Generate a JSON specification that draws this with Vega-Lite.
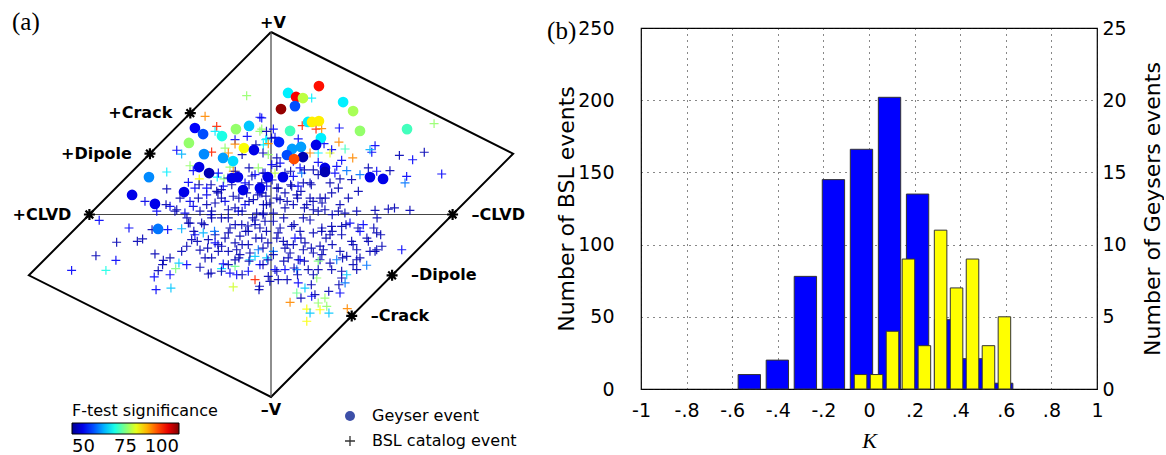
{
  "$schema": "https://vega.github.io/schema/vega-lite/v6.json",
  "padding": {"left": 0, "top": 9, "right": 0, "bottom": 0},
  "spacing": 96,
  "bounds": "flush",
  "background": "white",
  "resolve": {"scale": {"shape": "independent"}, "legend": {"shape": "independent"}},
  "config": {
    "font": "DejaVu Sans",
    "axis": {"labelFont": "DejaVu Sans", "labelFontSize": 19, "labelColor": "black", "titleFont": "DejaVu Sans", "titleFontSize": 22, "titleFontWeight": "normal", "titleColor": "black", "ticks": false, "domain": false, "labelOverlap": false},
    "legend": {"padding": 0, "labelFont": "DejaVu Sans", "labelColor": "black", "titleFont": "DejaVu Sans", "titleColor": "black", "titleFontWeight": "normal"}
  },
  "datasets": {
    "hud": [{"u": 0, "v": 1, "o": 0}, {"u": 1.3333, "v": 0.3333, "o": 1}, {"u": 0, "v": -1, "o": 2}, {"u": -1.3333, "v": -0.3333, "o": 3}, {"u": 0, "v": 1, "o": 4}],
    "ax": [{"u": -1, "v": 0, "u2": 1, "v2": 0}, {"u": 0, "v": 1, "u2": 0, "v2": -1}],
    "lab": [{"u": 0, "v": 1, "label": "+V"}, {"u": 0, "v": -1, "label": "–V"}, {"u": -1, "v": 0, "label": "+CLVD"}, {"u": 1, "v": 0, "label": "–CLVD"}, {"u": -0.6667, "v": 0.3333, "label": "+Dipole"}, {"u": 0.6667, "v": -0.3333, "label": "–Dipole"}, {"u": -0.4444, "v": 0.5556, "label": "+Crack"}, {"u": 0.4444, "v": -0.5556, "label": "–Crack"}],
    "bsl": [{"k0": -0.574, "k1": -0.476, "n": 10}, {"k0": -0.451, "k1": -0.353, "n": 20}, {"k0": -0.328, "k1": -0.23, "n": 78}, {"k0": -0.205, "k1": -0.107, "n": 145}, {"k0": -0.082, "k1": 0.016, "n": 166}, {"k0": 0.041, "k1": 0.139, "n": 202}, {"k0": 0.164, "k1": 0.262, "n": 135}, {"k0": 0.287, "k1": 0.385, "n": 48}, {"k0": 0.41, "k1": 0.508, "n": 21}, {"k0": 0.533, "k1": 0.631, "n": 4}],
    "gey": [{"k0": -0.0645, "k1": -0.0095, "n": 1}, {"k0": 0.0055, "k1": 0.0605, "n": 1}, {"k0": 0.0755, "k1": 0.1305, "n": 4}, {"k0": 0.1455, "k1": 0.2005, "n": 9}, {"k0": 0.2155, "k1": 0.2705, "n": 3}, {"k0": 0.2865, "k1": 0.3415, "n": 11}, {"k0": 0.3565, "k1": 0.4115, "n": 7}, {"k0": 0.4265, "k1": 0.4815, "n": 9}, {"k0": 0.4965, "k1": 0.5515, "n": 3}, {"k0": 0.5665, "k1": 0.6215, "n": 5}],
    "ev": [
      {"u":-0.419,"v":0.474,"s":56,"t":"G"},{"u":-0.374,"v":0.441,"s":60,"t":"G"},{"u":-0.452,"v":0.392,"s":76,"t":"G"},{"u":-0.270,"v":0.430,"s":70,"t":"G"},{"u":-0.193,"v":0.468,"s":76,"t":"G"},{"u":-0.121,"v":0.485,"s":66,"t":"G"},{"u":-0.149,"v":0.364,"s":81,"t":"G"},{"u":-0.094,"v":0.353,"s":55,"t":"G"},{"u":-0.369,"v":0.331,"s":63,"t":"G"},{"u":-0.264,"v":0.310,"s":64,"t":"G"},{"u":-0.209,"v":0.293,"s":67,"t":"G"},{"u":-0.672,"v":0.205,"s":63,"t":"G"},{"u":-0.396,"v":0.260,"s":55,"t":"G"},{"u":-0.341,"v":0.227,"s":52,"t":"G"},{"u":-0.215,"v":0.200,"s":55,"t":"G"},{"u":-0.182,"v":0.205,"s":55,"t":"G"},{"u":-0.154,"v":0.134,"s":55,"t":"G"},{"u":-0.061,"v":0.145,"s":55,"t":"G"},{"u":-0.479,"v":0.123,"s":55,"t":"G"},{"u":-0.765,"v":0.107,"s":55,"t":"G"},{"u":-0.639,"v":0.058,"s":55,"t":"G"},{"u":-0.622,"v":-0.079,"s":62,"t":"G"},{"u":0.094,"v":0.666,"s":68,"t":"G"},{"u":0.264,"v":0.704,"s":93,"t":"G"},{"u":0.138,"v":0.644,"s":94,"t":"G"},{"u":0.176,"v":0.638,"s":78,"t":"G"},{"u":0.055,"v":0.578,"s":99,"t":"G"},{"u":0.132,"v":0.594,"s":60,"t":"G"},{"u":0.397,"v":0.616,"s":68,"t":"G"},{"u":0.452,"v":0.567,"s":77,"t":"G"},{"u":0.204,"v":0.507,"s":68,"t":"G"},{"u":0.226,"v":0.507,"s":82,"t":"G"},{"u":0.264,"v":0.512,"s":82,"t":"G"},{"u":0.490,"v":0.458,"s":76,"t":"G"},{"u":0.749,"v":0.468,"s":72,"t":"G"},{"u":0.105,"v":0.458,"s":72,"t":"G"},{"u":0.275,"v":0.419,"s":68,"t":"G"},{"u":0.044,"v":0.397,"s":58,"t":"G"},{"u":0.248,"v":0.381,"s":55,"t":"G"},{"u":0.116,"v":0.359,"s":64,"t":"G"},{"u":0.165,"v":0.370,"s":64,"t":"G"},{"u":0.088,"v":0.326,"s":60,"t":"G"},{"u":0.176,"v":0.315,"s":52,"t":"G"},{"u":0.127,"v":0.304,"s":90,"t":"G"},{"u":0.297,"v":0.255,"s":55,"t":"G"},{"u":0.297,"v":0.233,"s":52,"t":"G"},{"u":0.545,"v":0.205,"s":55,"t":"G"},{"u":0.617,"v":0.195,"s":55,"t":"G"},{"u":-0.017,"v":0.205,"s":55,"t":"G"},{"u":0.066,"v":0.205,"s":55,"t":"G"},
      {"u":-0.134,"v":0.651,"s":76,"t":"B"},{"u":-0.363,"v":0.538,"s":87,"t":"B"},{"u":-0.299,"v":0.483,"s":92,"t":"B"},{"u":-0.061,"v":0.533,"s":56,"t":"B"},{"u":-0.308,"v":0.456,"s":68,"t":"B"},{"u":-0.198,"v":0.410,"s":56,"t":"B"},{"u":-0.131,"v":0.428,"s":56,"t":"B"},{"u":-0.061,"v":0.456,"s":76,"t":"B"},{"u":-0.029,"v":0.410,"s":68,"t":"B"},{"u":-0.253,"v":0.364,"s":76,"t":"B"},{"u":-0.198,"v":0.386,"s":87,"t":"B"},{"u":-0.327,"v":0.342,"s":92,"t":"B"},{"u":-0.235,"v":0.337,"s":87,"t":"B"},{"u":-0.519,"v":0.352,"s":56,"t":"B"},{"u":-0.492,"v":0.331,"s":65,"t":"B"},{"u":-0.015,"v":0.328,"s":76,"t":"B"},{"u":-0.446,"v":0.267,"s":76,"t":"B"},{"u":-0.428,"v":0.240,"s":56,"t":"B"},{"u":-0.574,"v":0.233,"s":68,"t":"B"},{"u":-0.395,"v":0.195,"s":81,"t":"B"},{"u":-0.455,"v":0.176,"s":56,"t":"B"},{"u":-0.296,"v":0.205,"s":68,"t":"B"},{"u":-0.259,"v":0.195,"s":75,"t":"B"},{"u":-0.290,"v":0.227,"s":56,"t":"B"},{"u":-0.226,"v":0.260,"s":76,"t":"B"},{"u":-0.208,"v":0.237,"s":87,"t":"B"},{"u":-0.070,"v":0.255,"s":76,"t":"B"},{"u":-0.088,"v":0.218,"s":56,"t":"B"},{"u":-0.574,"v":0.140,"s":52,"t":"B"},{"u":-0.419,"v":0.145,"s":56,"t":"B"},{"u":-0.354,"v":0.145,"s":56,"t":"B"},{"u":-0.299,"v":0.127,"s":52,"t":"B"},{"u":-0.263,"v":0.155,"s":56,"t":"B"},{"u":-0.694,"v":0.072,"s":55,"t":"B"},{"u":-0.556,"v":0.045,"s":55,"t":"B"},{"u":-0.519,"v":0.026,"s":52,"t":"B"},{"u":-0.446,"v":0.072,"s":55,"t":"B"},{"u":-0.400,"v":0.090,"s":52,"t":"B"},{"u":-0.354,"v":0.108,"s":55,"t":"B"},{"u":-0.308,"v":0.063,"s":52,"t":"B"},{"u":-0.253,"v":0.072,"s":55,"t":"B"},{"u":-0.208,"v":0.100,"s":52,"t":"B"},{"u":-0.143,"v":0.054,"s":55,"t":"B"},{"u":-0.097,"v":0.081,"s":52,"t":"B"},{"u":-0.042,"v":0.054,"s":52,"t":"B"},{"u":-0.061,"v":0.118,"s":55,"t":"B"},{"u":-0.134,"v":0.118,"s":52,"t":"B"},{"u":-0.024,"v":0.155,"s":55,"t":"B"},{"u":-0.474,"v":0.008,"s":55,"t":"B"},{"u":-0.391,"v":0.018,"s":52,"t":"B"},{"u":-0.327,"v":0.018,"s":52,"t":"B"},{"u":-0.235,"v":0.026,"s":52,"t":"B"},{"u":-0.180,"v":0.018,"s":55,"t":"B"},{"u":-0.079,"v":0.008,"s":52,"t":"B"},{"u":-0.042,"v":0.008,"s":52,"t":"B"},{"u":-0.354,"v":0.054,"s":52,"t":"B"},{"u":-0.428,"v":0.045,"s":55,"t":"B"},
      {"u":0.224,"v":0.638,"s":68,"t":"B"},{"u":0.898,"v":0.498,"s":76,"t":"B"},{"u":0.172,"v":0.487,"s":92,"t":"B"},{"u":0.248,"v":0.468,"s":92,"t":"B"},{"u":0.279,"v":0.470,"s":87,"t":"B"},{"u":0.376,"v":0.474,"s":56,"t":"B"},{"u":-0.051,"v":0.529,"s":56,"t":"B"},{"u":-0.051,"v":0.468,"s":76,"t":"B"},{"u":0.013,"v":0.468,"s":56,"t":"B"},{"u":0.374,"v":0.397,"s":87,"t":"B"},{"u":-0.024,"v":0.415,"s":68,"t":"B"},{"u":-0.015,"v":0.388,"s":87,"t":"B"},{"u":-0.042,"v":0.382,"s":68,"t":"B"},{"u":0.022,"v":0.423,"s":56,"t":"B"},{"u":0.150,"v":0.414,"s":56,"t":"B"},{"u":0.292,"v":0.388,"s":56,"t":"B"},{"u":0.408,"v":0.359,"s":72,"t":"B"},{"u":0.334,"v":0.355,"s":56,"t":"B"},{"u":0.325,"v":0.337,"s":80,"t":"B"},{"u":0.215,"v":0.337,"s":87,"t":"B"},{"u":0.260,"v":0.337,"s":68,"t":"B"},{"u":0.450,"v":0.310,"s":87,"t":"B"},{"u":0.389,"v":0.297,"s":56,"t":"B"},{"u":0.260,"v":0.286,"s":56,"t":"B"},{"u":0.362,"v":0.264,"s":56,"t":"B"},{"u":0.417,"v":0.240,"s":62,"t":"B"},{"u":0.352,"v":0.227,"s":56,"t":"B"},{"u":0.573,"v":0.377,"s":56,"t":"B"},{"u":0.555,"v":0.341,"s":56,"t":"B"},{"u":0.545,"v":0.355,"s":65,"t":"B"},{"u":0.707,"v":0.324,"s":52,"t":"B"},{"u":0.780,"v":0.300,"s":56,"t":"B"},{"u":0.844,"v":0.341,"s":52,"t":"B"},{"u":0.940,"v":0.222,"s":56,"t":"B"},{"u":0.747,"v":0.209,"s":56,"t":"B"},{"u":0.738,"v":0.173,"s":62,"t":"B"},{"u":0.655,"v":0.240,"s":52,"t":"B"},{"u":0.582,"v":0.237,"s":56,"t":"B"},{"u":0.536,"v":0.255,"s":52,"t":"B"},{"u":0.490,"v":0.218,"s":62,"t":"B"},{"u":0.444,"v":0.191,"s":52,"t":"B"},{"u":0.481,"v":0.127,"s":52,"t":"B"},{"u":0.426,"v":0.090,"s":52,"t":"B"},{"u":0.371,"v":0.145,"s":52,"t":"B"},{"u":0.325,"v":0.173,"s":52,"t":"B"},{"u":0.380,"v":0.195,"s":52,"t":"B"},{"u":0.260,"v":0.218,"s":52,"t":"B"},{"u":0.233,"v":0.245,"s":52,"t":"B"},{"u":0.215,"v":0.173,"s":52,"t":"B"},{"u":0.334,"v":0.118,"s":52,"t":"B"},{"u":0.270,"v":0.090,"s":52,"t":"B"},{"u":0.215,"v":0.090,"s":52,"t":"B"},{"u":0.169,"v":0.227,"s":62,"t":"B"},{"u":0.123,"v":0.209,"s":56,"t":"B"},{"u":0.178,"v":0.173,"s":52,"t":"B"},{"u":0.114,"v":0.155,"s":52,"t":"B"},{"u":0.040,"v":0.145,"s":52,"t":"B"},{"u":0.077,"v":0.118,"s":52,"t":"B"},{"u":0.142,"v":0.108,"s":52,"t":"B"},{"u":0.050,"v":0.081,"s":52,"t":"B"},{"u":0.123,"v":0.054,"s":52,"t":"B"},{"u":0.197,"v":0.054,"s":52,"t":"B"},{"u":-0.006,"v":0.063,"s":52,"t":"B"},{"u":-0.051,"v":0.173,"s":52,"t":"B"},{"u":0.004,"v":0.273,"s":56,"t":"B"},{"u":0.050,"v":0.282,"s":56,"t":"B"},{"u":0.123,"v":0.292,"s":56,"t":"B"},{"u":0.160,"v":0.255,"s":56,"t":"B"},{"u":-0.033,"v":0.227,"s":56,"t":"B"},{"u":0.022,"v":0.227,"s":78,"t":"B"},{"u":0.472,"v":0.018,"s":52,"t":"B"},{"u":0.573,"v":0.023,"s":52,"t":"B"},{"u":0.646,"v":0.030,"s":52,"t":"B"},{"u":0.765,"v":0.023,"s":52,"t":"B"},{"u":0.371,"v":0.018,"s":52,"t":"B"},{"u":0.297,"v":0.026,"s":52,"t":"B"},{"u":0.233,"v":0.026,"s":52,"t":"B"},{"u":0.380,"v":0.054,"s":52,"t":"B"},
      {"u":-0.946,"v":-0.032,"s":56,"t":"B"},{"u":-0.782,"v":-0.074,"s":56,"t":"B"},{"u":-0.569,"v":-0.083,"s":56,"t":"B"},{"u":-0.492,"v":-0.078,"s":65,"t":"B"},{"u":-0.850,"v":-0.152,"s":52,"t":"B"},{"u":-0.736,"v":-0.147,"s":52,"t":"B"},{"u":-0.707,"v":-0.134,"s":52,"t":"B"},{"u":-0.964,"v":-0.226,"s":52,"t":"B"},{"u":-0.854,"v":-0.251,"s":56,"t":"B"},{"u":-1.098,"v":-0.306,"s":56,"t":"B"},{"u":-0.909,"v":-0.306,"s":70,"t":"B"},{"u":-0.639,"v":-0.216,"s":52,"t":"B"},{"u":-0.593,"v":-0.251,"s":52,"t":"B"},{"u":-0.556,"v":-0.238,"s":52,"t":"B"},{"u":-0.507,"v":-0.266,"s":66,"t":"B"},{"u":-0.525,"v":-0.297,"s":75,"t":"B"},{"u":-0.464,"v":-0.275,"s":56,"t":"B"},{"u":-0.621,"v":-0.308,"s":52,"t":"B"},{"u":-0.643,"v":-0.342,"s":56,"t":"B"},{"u":-0.556,"v":-0.330,"s":56,"t":"B"},{"u":-0.633,"v":-0.412,"s":56,"t":"B"},{"u":-0.551,"v":-0.403,"s":66,"t":"B"},{"u":-0.391,"v":-0.289,"s":52,"t":"B"},{"u":-0.345,"v":-0.326,"s":52,"t":"B"},{"u":-0.272,"v":-0.297,"s":68,"t":"B"},{"u":-0.226,"v":-0.321,"s":56,"t":"B"},{"u":-0.189,"v":-0.330,"s":56,"t":"B"},{"u":-0.198,"v":-0.284,"s":74,"t":"B"},{"u":-0.125,"v":-0.311,"s":56,"t":"B"},{"u":-0.088,"v":-0.357,"s":92,"t":"B"},{"u":-0.208,"v":-0.397,"s":79,"t":"B"},{"u":-0.263,"v":-0.271,"s":56,"t":"B"},{"u":-0.116,"v":-0.248,"s":66,"t":"B"},{"u":-0.061,"v":-0.275,"s":56,"t":"B"},{"u":-0.066,"v":-0.412,"s":52,"t":"B"},{"u":-0.419,"v":-0.111,"s":56,"t":"B"},{"u":-0.373,"v":-0.101,"s":65,"t":"B"},{"u":-0.464,"v":-0.174,"s":52,"t":"B"},{"u":-0.492,"v":-0.202,"s":52,"t":"B"},{"u":-0.437,"v":-0.138,"s":52,"t":"B"},{"u":-0.345,"v":-0.138,"s":52,"t":"B"},{"u":-0.308,"v":-0.111,"s":52,"t":"B"},{"u":-0.272,"v":-0.174,"s":52,"t":"B"},{"u":-0.198,"v":-0.156,"s":52,"t":"B"},{"u":-0.189,"v":-0.193,"s":52,"t":"B"},{"u":-0.125,"v":-0.165,"s":52,"t":"B"},{"u":-0.070,"v":-0.193,"s":62,"t":"B"},{"u":-0.088,"v":-0.229,"s":66,"t":"B"},{"u":-0.171,"v":-0.220,"s":52,"t":"B"},{"u":-0.290,"v":-0.202,"s":52,"t":"B"},{"u":-0.327,"v":-0.238,"s":52,"t":"B"},{"u":-0.235,"v":-0.101,"s":52,"t":"B"},{"u":-0.161,"v":-0.056,"s":52,"t":"B"},{"u":-0.382,"v":-0.047,"s":52,"t":"B"},{"u":-0.455,"v":-0.047,"s":52,"t":"B"},{"u":-0.529,"v":0.018,"s":52,"t":"B"},{"u":-0.629,"v":0.018,"s":56,"t":"B"},{"u":-0.327,"v":-0.019,"s":52,"t":"B"},{"u":-0.235,"v":-0.019,"s":52,"t":"B"},{"u":-0.088,"v":-0.056,"s":52,"t":"B"},{"u":-0.125,"v":-0.092,"s":52,"t":"B"},{"u":-0.051,"v":-0.129,"s":52,"t":"B"},
      {"u":0.013,"v":0.008,"s":52,"t":"B"},{"u":-0.033,"v":-0.037,"s":52,"t":"B"},{"u":0.050,"v":-0.074,"s":52,"t":"B"},{"u":0.114,"v":-0.065,"s":52,"t":"B"},{"u":0.178,"v":-0.019,"s":52,"t":"B"},{"u":0.160,"v":-0.092,"s":52,"t":"B"},{"u":0.233,"v":-0.101,"s":52,"t":"B"},{"u":0.279,"v":-0.092,"s":52,"t":"B"},{"u":0.334,"v":-0.065,"s":52,"t":"B"},{"u":0.389,"v":-0.065,"s":52,"t":"B"},{"u":0.435,"v":-0.047,"s":56,"t":"B"},{"u":0.389,"v":-0.111,"s":52,"t":"B"},{"u":0.325,"v":-0.111,"s":52,"t":"B"},{"u":0.444,"v":-0.147,"s":52,"t":"B"},{"u":0.490,"v":-0.092,"s":56,"t":"B"},{"u":0.508,"v":-0.056,"s":56,"t":"B"},{"u":0.582,"v":-0.101,"s":52,"t":"B"},{"u":0.536,"v":-0.147,"s":52,"t":"B"},{"u":0.582,"v":-0.193,"s":52,"t":"B"},{"u":0.472,"v":-0.193,"s":52,"t":"B"},{"u":0.417,"v":-0.229,"s":52,"t":"B"},{"u":0.472,"v":-0.248,"s":52,"t":"B"},{"u":0.362,"v":-0.248,"s":62,"t":"B"},{"u":0.325,"v":-0.266,"s":52,"t":"B"},{"u":0.270,"v":-0.248,"s":52,"t":"B"},{"u":0.260,"v":-0.256,"s":75,"t":"B"},{"u":0.233,"v":-0.211,"s":52,"t":"B"},{"u":0.178,"v":-0.193,"s":52,"t":"B"},{"u":0.123,"v":-0.165,"s":52,"t":"B"},{"u":0.068,"v":-0.147,"s":52,"t":"B"},{"u":0.013,"v":-0.202,"s":62,"t":"B"},{"u":-0.024,"v":-0.238,"s":66,"t":"B"},{"u":0.095,"v":-0.238,"s":52,"t":"B"},{"u":0.150,"v":-0.248,"s":52,"t":"B"},{"u":0.205,"v":-0.302,"s":52,"t":"B"},{"u":0.260,"v":-0.302,"s":52,"t":"B"},{"u":0.142,"v":-0.302,"s":62,"t":"B"},{"u":0.077,"v":-0.302,"s":56,"t":"B"},{"u":0.022,"v":-0.302,"s":56,"t":"B"},{"u":-0.015,"v":-0.339,"s":52,"t":"B"},{"u":0.040,"v":-0.357,"s":52,"t":"B"},{"u":0.334,"v":-0.302,"s":52,"t":"B"},{"u":0.389,"v":-0.311,"s":52,"t":"B"},{"u":0.527,"v":-0.278,"s":62,"t":"B"},{"u":0.472,"v":-0.302,"s":52,"t":"B"},{"u":0.252,"v":-0.348,"s":76,"t":"B"},{"u":0.233,"v":-0.330,"s":52,"t":"B"},{"u":0.389,"v":-0.348,"s":52,"t":"B"},{"u":0.417,"v":-0.330,"s":66,"t":"B"},{"u":0.408,"v":-0.375,"s":62,"t":"B"},{"u":0.380,"v":-0.430,"s":56,"t":"B"},{"u":0.150,"v":-0.375,"s":56,"t":"B"},{"u":0.187,"v":-0.403,"s":66,"t":"B"},{"u":0.142,"v":-0.430,"s":74,"t":"B"},{"u":0.224,"v":-0.448,"s":56,"t":"B"},{"u":0.297,"v":-0.458,"s":76,"t":"B"},{"u":0.260,"v":-0.485,"s":76,"t":"B"},{"u":0.307,"v":-0.503,"s":76,"t":"B"},{"u":0.105,"v":-0.481,"s":87,"t":"B"},{"u":0.197,"v":-0.518,"s":81,"t":"B"},{"u":0.215,"v":-0.540,"s":66,"t":"B"},{"u":0.270,"v":-0.522,"s":81,"t":"B"},{"u":0.319,"v":-0.540,"s":66,"t":"B"},{"u":0.197,"v":-0.585,"s":81,"t":"B"},{"u":0.420,"v":-0.516,"s":87,"t":"B"},{"u":0.720,"v":-0.193,"s":56,"t":"B"},{"u":0.573,"v":-0.202,"s":52,"t":"B"},{"u":0.380,"v":-0.202,"s":52,"t":"B"},{"u":0.288,"v":-0.193,"s":52,"t":"B"},
      {"u":0.611,"v":-0.174,"s":52,"t":"B"},{"u":0.604,"v":-0.111,"s":52,"t":"B"},{"u":0.528,"v":-0.129,"s":52,"t":"B"},{"u":0.566,"v":-0.074,"s":52,"t":"B"},{"u":0.479,"v":-0.074,"s":52,"t":"B"},{"u":0.680,"v":0.036,"s":52,"t":"B"},{"u":0.584,"v":-0.019,"s":52,"t":"B"},{"u":-0.655,"v":-0.083,"s":52,"t":"B"},{"u":-0.597,"v":-0.275,"s":52,"t":"B"},{"u":-0.330,"v":-0.321,"s":52,"t":"B"},{"u":-0.235,"v":-0.275,"s":52,"t":"B"},{"u":-0.063,"v":-0.393,"s":52,"t":"B"},
      {"u":-0.177,"v":0.090,"s":52,"t":"B"},{"u":-0.121,"v":0.072,"s":52,"t":"B"},{"u":-0.073,"v":0.108,"s":52,"t":"B"},{"u":-0.025,"v":0.054,"s":52,"t":"B"},{"u":0.032,"v":0.090,"s":52,"t":"B"},{"u":0.089,"v":0.072,"s":52,"t":"B"},{"u":0.146,"v":0.090,"s":52,"t":"B"},{"u":0.184,"v":0.036,"s":52,"t":"B"},{"u":-0.159,"v":0.018,"s":52,"t":"B"},{"u":-0.101,"v":-0.019,"s":52,"t":"B"},{"u":-0.044,"v":-0.001,"s":52,"t":"B"},{"u":0.013,"v":-0.037,"s":52,"t":"B"},{"u":0.070,"v":-0.019,"s":52,"t":"B"},{"u":0.127,"v":-0.056,"s":52,"t":"B"},{"u":-0.197,"v":-0.056,"s":52,"t":"B"},{"u":-0.139,"v":-0.092,"s":52,"t":"B"},{"u":-0.083,"v":-0.129,"s":52,"t":"B"},{"u":-0.025,"v":-0.092,"s":52,"t":"B"},{"u":0.032,"v":-0.129,"s":52,"t":"B"},{"u":0.089,"v":-0.165,"s":52,"t":"B"},{"u":-0.159,"v":-0.165,"s":52,"t":"B"},{"u":-0.044,"v":-0.184,"s":52,"t":"B"},{"u":0.013,"v":-0.220,"s":52,"t":"B"},{"u":0.070,"v":-0.256,"s":52,"t":"B"},{"u":-0.253,"v":-0.129,"s":52,"t":"B"},{"u":-0.311,"v":-0.092,"s":62,"t":"B"},{"u":-0.273,"v":-0.019,"s":52,"t":"B"},{"u":-0.330,"v":-0.001,"s":52,"t":"B"},{"u":-0.368,"v":-0.056,"s":52,"t":"B"},{"u":-0.425,"v":-0.092,"s":52,"t":"B"},{"u":-0.273,"v":0.090,"s":52,"t":"B"},{"u":-0.216,"v":0.163,"s":52,"t":"B"},{"u":-0.121,"v":0.163,"s":52,"t":"B"},{"u":0.032,"v":0.145,"s":52,"t":"B"},{"u":0.108,"v":0.163,"s":52,"t":"B"},{"u":0.165,"v":0.127,"s":52,"t":"B"},{"u":0.222,"v":0.163,"s":52,"t":"B"},{"u":0.232,"v":0.072,"s":52,"t":"B"},{"u":0.260,"v":0.018,"s":52,"t":"B"},{"u":0.299,"v":0.090,"s":52,"t":"B"},{"u":0.337,"v":-0.001,"s":52,"t":"B"},{"u":0.413,"v":-0.056,"s":52,"t":"B"},{"u":0.337,"v":-0.092,"s":52,"t":"B"},{"u":0.280,"v":-0.074,"s":52,"t":"B"},{"u":0.165,"v":-0.129,"s":52,"t":"B"},{"u":0.222,"v":-0.184,"s":52,"t":"B"},{"u":0.280,"v":-0.220,"s":52,"t":"B"},{"u":0.337,"v":-0.165,"s":52,"t":"B"},{"u":0.184,"v":-0.256,"s":52,"t":"B"},{"u":0.127,"v":-0.293,"s":52,"t":"B"},{"u":-0.121,"v":-0.256,"s":52,"t":"B"},{"u":-0.177,"v":-0.238,"s":52,"t":"B"},{"u":-0.235,"v":-0.202,"s":52,"t":"B"},{"u":-0.292,"v":-0.165,"s":52,"t":"B"},{"u":-0.349,"v":-0.184,"s":52,"t":"B"},{"u":-0.406,"v":-0.147,"s":52,"t":"B"},{"u":-0.463,"v":-0.019,"s":52,"t":"B"},{"u":-0.578,"v":0.054,"s":52,"t":"B"},{"u":-0.501,"v":0.090,"s":52,"t":"B"},{"u":-0.396,"v":0.163,"s":52,"t":"B"},{"u":-0.330,"v":0.163,"s":52,"t":"B"},{"u":-0.273,"v":0.136,"s":52,"t":"B"},{"u":-0.197,"v":0.237,"s":52,"t":"B"},{"u":-0.121,"v":0.255,"s":52,"t":"B"},{"u":-0.044,"v":0.227,"s":52,"t":"B"},{"u":0.032,"v":0.264,"s":52,"t":"B"},{"u":0.108,"v":0.237,"s":52,"t":"B"},{"u":0.184,"v":0.245,"s":52,"t":"B"},{"u":-0.159,"v":0.328,"s":52,"t":"B"},{"u":-0.044,"v":0.337,"s":52,"t":"B"},{"u":0.032,"v":0.310,"s":52,"t":"B"},{"u":-0.083,"v":0.382,"s":52,"t":"B"},{"u":0.003,"v":0.419,"s":52,"t":"B"},{"u":-0.025,"v":0.456,"s":52,"t":"B"},
      {"u":-0.273,"v":-0.311,"s":52,"t":"B"},{"u":-0.159,"v":-0.330,"s":52,"t":"B"},{"u":-0.044,"v":-0.275,"s":52,"t":"B"},{"u":0.032,"v":-0.311,"s":52,"t":"B"},{"u":-0.006,"v":-0.366,"s":52,"t":"B"},{"u":0.089,"v":-0.357,"s":52,"t":"B"},{"u":0.146,"v":-0.330,"s":52,"t":"B"},{"u":0.222,"v":-0.385,"s":52,"t":"B"},{"u":0.242,"v":-0.439,"s":52,"t":"B"},{"u":0.165,"v":-0.458,"s":52,"t":"B"},{"u":0.318,"v":-0.421,"s":52,"t":"B"},{"u":0.374,"v":-0.385,"s":52,"t":"B"},{"u":0.452,"v":-0.275,"s":52,"t":"B"},{"u":0.490,"v":-0.238,"s":52,"t":"B"},{"u":0.394,"v":-0.238,"s":52,"t":"B"},{"u":0.452,"v":-0.165,"s":52,"t":"B"},{"u":0.545,"v":-0.202,"s":52,"t":"B"},
      {"u":-0.237,"v":0.200,"s":52,"t":"B"},{"u":-0.143,"v":0.173,"s":56,"t":"B"},{"u":0.006,"v":0.189,"s":52,"t":"B"},{"u":0.077,"v":0.036,"s":52,"t":"B"},{"u":-0.088,"v":-0.030,"s":52,"t":"B"},{"u":-0.171,"v":-0.118,"s":52,"t":"B"},{"u":-0.017,"v":-0.156,"s":52,"t":"B"},{"u":0.132,"v":-0.129,"s":56,"t":"B"},{"u":0.215,"v":-0.030,"s":52,"t":"B"},{"u":0.281,"v":0.063,"s":52,"t":"B"},{"u":-0.061,"v":-0.074,"s":52,"t":"B"},{"u":0.039,"v":-0.101,"s":52,"t":"B"},{"u":-0.116,"v":-0.211,"s":52,"t":"B"},{"u":-0.226,"v":-0.074,"s":52,"t":"B"},{"u":-0.308,"v":-0.156,"s":56,"t":"B"},{"u":-0.391,"v":-0.195,"s":52,"t":"B"},{"u":0.105,"v":-0.211,"s":52,"t":"B"},{"u":0.187,"v":-0.156,"s":52,"t":"B"},{"u":0.303,"v":-0.129,"s":52,"t":"B"},{"u":0.407,"v":0.008,"s":52,"t":"B"},{"u":-0.292,"v":0.118,"s":52,"t":"B"},{"u":-0.198,"v":0.036,"s":52,"t":"B"},{"u":-0.105,"v":0.211,"s":52,"t":"B"},{"u":0.077,"v":0.227,"s":52,"t":"B"},{"u":0.149,"v":0.156,"s":56,"t":"B"},{"u":-0.028,"v":0.101,"s":52,"t":"B"},{"u":-0.127,"v":-0.063,"s":52,"t":"B"},{"u":-0.198,"v":-0.249,"s":52,"t":"B"},{"u":-0.017,"v":-0.249,"s":52,"t":"B"},{"u":0.160,"v":-0.249,"s":56,"t":"B"},{"u":-0.446,"v":-0.047,"s":52,"t":"B"},{"u":-0.363,"v":-0.238,"s":52,"t":"B"},{"u":0.270,"v":-0.173,"s":52,"t":"B"},{"u":0.077,"v":-0.184,"s":52,"t":"B"},{"u":-0.050,"v":0.118,"s":52,"t":"B"}
    ]
  },
  "hconcat": [
    {
      "width": 545,
      "height": 425,
      "view": {"stroke": null},
      "resolve": {"scale": {"shape": "independent"}, "legend": {"shape": "independent"}},
      "layer": [
        {"data": {"name": "hud"}, "mark": {"type": "line", "color": "black", "strokeWidth": 2},
          "encoding": {
            "x": {"field": "u", "type": "quantitative", "scale": {"domain": [-1.4923, 1.5088], "nice": false, "zero": false}, "axis": null},
            "y": {"field": "v", "type": "quantitative", "scale": {"domain": [-1.3068, 1.0219], "nice": false, "zero": false}, "axis": null},
            "order": {"field": "o", "type": "quantitative"}}},
        {"data": {"name": "ax"}, "mark": {"type": "rule", "color": "#444444", "strokeWidth": 1.2},
          "encoding": {
            "x": {"field": "u", "type": "quantitative", "scale": {"domain": [-1.4923, 1.5088], "nice": false, "zero": false}, "axis": null},
            "y": {"field": "v", "type": "quantitative", "scale": {"domain": [-1.3068, 1.0219], "nice": false, "zero": false}, "axis": null},
            "x2": {"field": "u2"}, "y2": {"field": "v2"}}},
        {
          "data": {"name": "ev"},
          "transform": [{"filter": "datum.t == 'B'"}],
          "mark": {"type": "point", "filled": false, "size": 80, "strokeWidth": 1.2, "opacity": 0.9},
          "encoding": {
            "x": {"field": "u", "type": "quantitative", "scale": {"domain": [-1.4923, 1.5088], "nice": false, "zero": false}, "axis": null},
            "y": {"field": "v", "type": "quantitative", "scale": {"domain": [-1.3068, 1.0219], "nice": false, "zero": false}, "axis": null},
            "stroke": {"field": "s", "type": "quantitative", "scale": {"type": "linear", "domain": [50, 56.25, 68.75, 81.25, 93.75, 100.01], "range": ["#000090", "#0000ff", "#00ffff", "#ffff00", "#ff0000", "#800000"], "interpolate": "rgb"}, "legend": null},
            "shape": {"field": "t", "type": "nominal", "scale": {"domain": ["B"], "range": ["M-1,0H1M0,-1V1"]},
              "legend": {"title": null, "orient": "none", "legendX": 342, "legendY": 405, "labelExpr": "'BSL catalog event'", "labelFontSize": 16, "symbolSize": 100, "labelOffset": 14, "symbolStrokeColor": "#333333", "symbolFillColor": "transparent", "symbolStrokeWidth": 1.3, "symbolOpacity": 1}}
          }
        },
        {
          "data": {"name": "ev"},
          "transform": [{"filter": "datum.t == 'G'"}],
          "mark": {"type": "point", "filled": true, "size": 115, "opacity": 1},
          "encoding": {
            "x": {"field": "u", "type": "quantitative", "scale": {"domain": [-1.4923, 1.5088], "nice": false, "zero": false}, "axis": null},
            "y": {"field": "v", "type": "quantitative", "scale": {"domain": [-1.3068, 1.0219], "nice": false, "zero": false}, "axis": null},
            "fill": {"field": "s", "type": "quantitative", "scale": {"type": "linear", "domain": [50, 56.25, 68.75, 81.25, 93.75, 100], "range": ["#000090", "#0000ff", "#00ffff", "#ffff00", "#ff0000", "#800000"], "interpolate": "rgb"},
              "legend": {"type": "gradient", "title": "F-test significance", "orient": "none", "legendX": 72, "legendY": 375, "direction": "horizontal", "gradientLength": 107, "gradientThickness": 11, "gradientStrokeColor": "black", "gradientStrokeWidth": 1, "values": [50, 75, 100], "titleFontSize": 16, "titlePadding": 4, "labelFontSize": 18, "labelOffset": 4}},
            "shape": {"field": "t", "type": "nominal", "scale": {"domain": ["G"], "range": ["circle"]},
              "legend": {"title": null, "orient": "none", "legendX": 342, "legendY": 380, "labelExpr": "'Geyser event'", "labelFontSize": 16, "symbolSize": 100, "labelOffset": 14, "symbolFillColor": "#3d4fa8", "symbolStrokeColor": "#3d4fa8", "symbolStrokeWidth": 0, "symbolOpacity": 1}}
          }
        },
        {"data": {"name": "lab"}, "transform": [{"filter": "datum.u != 0"}], "mark": {"type": "point", "shape": "M-1,0H1M0,-1V1M-0.7,-0.7L0.7,0.7M-0.7,0.7L0.7,-0.7", "filled": false, "size": 121, "color": "black", "strokeWidth": 2.2, "opacity": 1},
          "encoding": {
            "x": {"field": "u", "type": "quantitative", "scale": {"domain": [-1.4923, 1.5088], "nice": false, "zero": false}, "axis": null},
            "y": {"field": "v", "type": "quantitative", "scale": {"domain": [-1.3068, 1.0219], "nice": false, "zero": false}, "axis": null}}},
        {"data": {"name": "lab"}, "transform": [{"filter": "datum.u < 0"}], "mark": {"type": "text", "align": "right", "baseline": "middle", "dx": -18, "font": "DejaVu Sans", "fontWeight": "bold", "fontSize": 16, "color": "black"},
          "encoding": {
            "x": {"field": "u", "type": "quantitative", "scale": {"domain": [-1.4923, 1.5088], "nice": false, "zero": false}, "axis": null},
            "y": {"field": "v", "type": "quantitative", "scale": {"domain": [-1.3068, 1.0219], "nice": false, "zero": false}, "axis": null},
            "text": {"field": "label"}}},
        {"data": {"name": "lab"}, "transform": [{"filter": "datum.u > 0"}], "mark": {"type": "text", "align": "left", "baseline": "middle", "dx": 19, "font": "DejaVu Sans", "fontWeight": "bold", "fontSize": 16, "color": "black"},
          "encoding": {
            "x": {"field": "u", "type": "quantitative", "scale": {"domain": [-1.4923, 1.5088], "nice": false, "zero": false}, "axis": null},
            "y": {"field": "v", "type": "quantitative", "scale": {"domain": [-1.3068, 1.0219], "nice": false, "zero": false}, "axis": null},
            "text": {"field": "label"}}},
        {"data": {"name": "lab"}, "transform": [{"filter": "datum.v == 1"}], "mark": {"type": "text", "align": "center", "baseline": "alphabetic", "dx": 2, "dy": -4, "font": "DejaVu Sans", "fontWeight": "bold", "fontSize": 16, "color": "black"},
          "encoding": {
            "x": {"field": "u", "type": "quantitative", "scale": {"domain": [-1.4923, 1.5088], "nice": false, "zero": false}, "axis": null},
            "y": {"field": "v", "type": "quantitative", "scale": {"domain": [-1.3068, 1.0219], "nice": false, "zero": false}, "axis": null},
            "text": {"field": "label"}}},
        {"data": {"name": "lab"}, "transform": [{"filter": "datum.v == -1"}], "mark": {"type": "text", "align": "center", "baseline": "alphabetic", "dy": 18, "font": "DejaVu Sans", "fontWeight": "bold", "fontSize": 16, "color": "black"},
          "encoding": {
            "x": {"field": "u", "type": "quantitative", "scale": {"domain": [-1.4923, 1.5088], "nice": false, "zero": false}, "axis": null},
            "y": {"field": "v", "type": "quantitative", "scale": {"domain": [-1.3068, 1.0219], "nice": false, "zero": false}, "axis": null},
            "text": {"field": "label"}}},
        {"data": {"values": [{"panel": "(a)"}]}, "mark": {"type": "text", "align": "left", "baseline": "middle", "font": "Liberation Serif", "fontSize": 25, "color": "black"},
          "encoding": {
            "x": {"datum": -1.426, "type": "quantitative", "scale": {"domain": [-1.4923, 1.5088], "nice": false, "zero": false}, "axis": null},
            "y": {"datum": 1.055, "type": "quantitative", "scale": {"domain": [-1.3068, 1.0219], "nice": false, "zero": false}, "axis": null},
            "text": {"field": "panel"}}}
      ]
    },
    {
      "width": 456,
      "height": 361,
      "view": {"stroke": "black", "strokeWidth": 1.2},
      "layer": [
        {
          "data": {"name": "bsl"},
          "mark": {"type": "rect", "fill": "#0000ff", "stroke": "#333333", "strokeWidth": 1},
          "encoding": {
            "x": {"field": "k0", "type": "quantitative", "scale": {"domain": [-1, 1], "nice": false, "zero": false},
              "axis": {"title": "K", "values": [-1, -0.8, -0.6, -0.4, -0.2, 0, 0.2, 0.4, 0.6, 0.8, 1], "labelExpr": "(datum.value < 0 ? '-' : '') + replace(format(abs(datum.value), '.1~f'), '0.', '.')", "labelFlush": false, "labelPadding": 12, "titlePadding": 10, "titleFont": "Liberation Serif", "titleFontStyle": "italic", "titleFontSize": 22, "grid": true, "gridDash": [1, 5], "gridColor": "#111111", "gridWidth": 1}},
            "x2": {"field": "k1"},
            "y": {"field": "n", "type": "quantitative", "scale": {"domain": [0, 250], "nice": false},
              "axis": {"title": "Number of BSL events", "values": [0, 50, 100, 150, 200, 250], "labelPadding": 27, "titlePadding": -1, "grid": true, "gridDash": [1, 5], "gridColor": "#111111", "gridWidth": 1}},
            "y2": {"datum": 0}
          }
        },
        {
          "data": {"name": "gey"},
          "mark": {"type": "rect", "fill": "#ffff00", "stroke": "#333333", "strokeWidth": 1},
          "encoding": {
            "x": {"field": "k0", "type": "quantitative", "scale": {"domain": [-1, 1], "nice": false, "zero": false},
              "axis": {"title": "K", "values": [-1, -0.8, -0.6, -0.4, -0.2, 0, 0.2, 0.4, 0.6, 0.8, 1], "labelExpr": "(datum.value < 0 ? '-' : '') + replace(format(abs(datum.value), '.1~f'), '0.', '.')", "labelFlush": false, "labelPadding": 12, "titlePadding": 10, "titleFont": "Liberation Serif", "titleFontStyle": "italic", "titleFontSize": 22, "grid": true, "gridDash": [1, 5], "gridColor": "#111111", "gridWidth": 1}},
            "x2": {"field": "k1"},
            "y": {"field": "n", "type": "quantitative", "scale": {"domain": [0, 25], "nice": false},
              "axis": {"orient": "right", "title": "Number of Geysers events", "values": [0, 5, 10, 15, 20, 25], "labelPadding": 5, "titlePadding": 16, "titleAngle": 270, "titleBaseline": "top", "grid": false}},
            "y2": {"datum": 0}
          }
        },
        {
          "data": {"values": [{"panel": "(b)"}]},
          "mark": {"type": "text", "align": "left", "baseline": "middle", "font": "Liberation Serif", "fontSize": 25, "color": "black"},
          "encoding": {
            "x": {"datum": -1.412, "type": "quantitative", "scale": {"domain": [-1, 1], "nice": false, "zero": false},
              "axis": {"title": "K", "values": [-1, -0.8, -0.6, -0.4, -0.2, 0, 0.2, 0.4, 0.6, 0.8, 1], "labelExpr": "(datum.value < 0 ? '-' : '') + replace(format(abs(datum.value), '.1~f'), '0.', '.')", "labelFlush": false, "labelPadding": 12, "titlePadding": 10, "titleFont": "Liberation Serif", "titleFontStyle": "italic", "titleFontSize": 22, "grid": true, "gridDash": [1, 5], "gridColor": "#111111", "gridWidth": 1}},
            "y": {"datum": 248, "type": "quantitative", "scale": {"domain": [0, 250], "nice": false}, "axis": null},
            "text": {"field": "panel"}
          }
        }
      ],
      "resolve": {"scale": {"y": "independent"}}
    }
  ]
}
